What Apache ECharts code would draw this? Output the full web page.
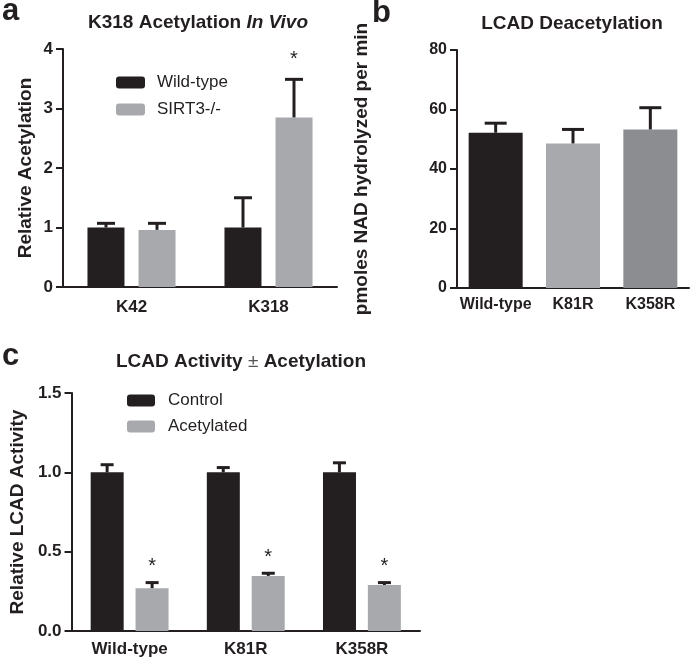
<!DOCTYPE html>
<html>
<head>
<meta charset="utf-8">
<script src="https://cdn.jsdelivr.net/npm/echarts@6/dist/echarts.min.js"></script>
<style>
html,body{margin:0;padding:0;background:#fff;}
#chart{width:693px;height:664px;}
</style>
</head>
<body>
<div id="chart"></div>
<script>
// ---- Panel a data ----
const catsA = ['K42', 'K318'];
const wtA = [1.0, 1.0];
const wtAErr = [1.07, 1.5];
const koA = [0.96, 2.85];
const koAErr = [1.07, 3.49];
const koASig = [0, 1];
const yTicksA = ['0', '1', '2', '3', '4'];

// ---- Panel b data ----
const catsB = ['Wild-type', 'K81R', 'K358R'];
const valB = [52.2, 48.6, 53.3];
const valBErr = [55.4, 53.3, 60.6];
const yTicksB = ['0', '20', '40', '60', '80'];

// ---- Panel c data ----
const catsC = ['Wild-type', 'K81R', 'K358R'];
const ctrlC = [1.0, 1.0, 1.0];
const ctrlCErr = [1.048, 1.03, 1.06];
const acC = [0.27, 0.347, 0.29];
const acCErr = [0.305, 0.364, 0.305];
const acCSig = [1, 1, 1];
const yTicksC = ['0.0', '0.5', '1.0', '1.5'];

const FONT = 'Liberation Sans, Arial, Helvetica, sans-serif';
const INK = '#231f20';
const LIGHT = '#a7a9ac';
const MID = '#8b8d90';

function errData(vals, errs, sig) {
  return vals.map((v, i) => [i, v, errs[i], sig ? sig[i] : 0]);
}
function errRender(offsetPx, capW, starOff) {
  return function (params, api) {
    const cat = api.value(0), lo = api.value(1), hi = api.value(2), s = api.value(3);
    const p0 = api.coord([cat, lo]);
    const p1 = api.coord([cat, hi]);
    const x = p0[0] + offsetPx;
    const ch = [
      { type: 'line', shape: { x1: x, y1: p0[1], x2: x, y2: p1[1] }, style: { stroke: INK, lineWidth: 3 } },
      { type: 'line', shape: { x1: x - capW / 2, y1: p1[1], x2: x + capW / 2, y2: p1[1] }, style: { stroke: INK, lineWidth: 3 } }
    ];
    if (s) {
      ch.push({ type: 'text', style: { text: '*', x: x, y: p1[1] - starOff, align: 'center', verticalAlign: 'middle', font: '20px ' + FONT, fill: INK } });
    }
    return { type: 'group', children: ch };
  };
}
function yAxisCommon(ticks, max, interval, gridIndex, name, nameGap, fs) {
  return {
    type: 'value', gridIndex: gridIndex, min: 0, max: max, interval: interval,
    name: name, nameLocation: 'middle', nameGap: nameGap,
    nameTextStyle: { fontFamily: FONT, fontWeight: 'bold', fontSize: 19, color: INK },
    axisLine: { show: true, lineStyle: { color: INK, width: 2 } },
    axisTick: { show: true, length: 7, lineStyle: { color: INK, width: 2 } },
    axisLabel: { fontFamily: FONT, fontWeight: 'bold', fontSize: fs, color: INK, margin: 10,
      formatter: function (v) { const i = Math.round(v / interval); return ticks[i]; } },
    splitLine: { show: false }
  };
}
function xAxisCommon(cats, gridIndex, margin, fs) {
  return {
    type: 'category', gridIndex: gridIndex, data: cats,
    axisLine: { show: true, lineStyle: { color: INK, width: 2 } },
    axisTick: { show: false },
    axisLabel: { interval: 0, hideOverlap: false, fontFamily: FONT, fontWeight: 'bold', fontSize: fs, color: INK, margin: margin }
  };
}

const chart = echarts.init(document.getElementById('chart'), null, { renderer: 'canvas' });
chart.setOption({
  backgroundColor: '#fff',
  animation: false,
  title: [
    { text: 'K318 Acetylation {i|In Vivo}', left: 198, top: 13, textAlign: 'center', padding: 0,
      textStyle: { fontFamily: FONT, fontWeight: 'bold', fontSize: 19, color: INK,
        rich: { i: { fontFamily: FONT, fontWeight: 'bold', fontStyle: 'italic', fontSize: 19, color: INK } } } },
    { text: 'LCAD Deacetylation', left: 572, top: 14, textAlign: 'center', padding: 0,
      textStyle: { fontFamily: FONT, fontWeight: 'bold', fontSize: 19, color: INK } },
    { text: 'LCAD Activity {pm|\u00b1} Acetylation', left: 241, top: 352, textAlign: 'center', padding: 0,
      textStyle: { fontFamily: FONT, fontWeight: 'bold', fontSize: 19, color: INK,
        rich: { pm: { fontFamily: FONT, fontWeight: 'normal', fontSize: 19, color: '#555' } } } }
  ],
  graphic: [
    { type: 'text', left: 2, top: -4, style: { text: 'a', font: 'bold 31px ' + FONT, fill: INK } },
    { type: 'text', left: 372, top: -2, style: { text: 'b', font: 'bold 31px ' + FONT, fill: INK } },
    { type: 'text', left: 2, top: 341, style: { text: 'c', font: 'bold 31px ' + FONT, fill: INK } }
  ],
  legend: [
    { data: ['Wild-type', 'SIRT3-/-'], orient: 'vertical', left: 116, top: 74, itemWidth: 29, itemHeight: 12,
      itemGap: 10, icon: 'roundRect', padding: 0,
      textStyle: { fontFamily: FONT, fontSize: 17, color: INK, padding: [0, 0, 0, 7] } },
    { data: ['Control', 'Acetylated'], orient: 'vertical', left: 127, top: 392, itemWidth: 28, itemHeight: 12,
      itemGap: 9, icon: 'roundRect', padding: 0,
      textStyle: { fontFamily: FONT, fontSize: 17, color: INK, padding: [0, 0, 0, 8] } }
  ],
  grid: [
    { left: 63, top: 49, width: 274, height: 238 },
    { left: 457, top: 50, width: 232, height: 238 },
    { left: 63, top: 393, width: 357, height: 238 }
  ],
  xAxis: [
    xAxisCommon(catsA, 0, 12, 17),
    xAxisCommon(catsB, 1, 9, 16),
    xAxisCommon(catsC, 2, 10, 17)
  ],
  yAxis: [
    yAxisCommon(yTicksA, 4, 1, 0, 'Relative Acetylation', 28, 17),
    yAxisCommon(yTicksB, 80, 20, 1, 'pmoles NAD hydrolyzed per min', 86, 16),
    yAxisCommon(yTicksC, 1.5, 0.5, 2, 'Relative LCAD Activity', 40, 17)
  ],
  series: [
    { name: 'Wild-type', type: 'bar', xAxisIndex: 0, yAxisIndex: 0, data: wtA, barWidth: 37, barGap: '38%', itemStyle: { color: INK } },
    { name: 'SIRT3-/-', type: 'bar', xAxisIndex: 0, yAxisIndex: 0, data: koA, barWidth: 37, barGap: '38%', itemStyle: { color: LIGHT } },
    { name: 'errA1', type: 'custom', xAxisIndex: 0, yAxisIndex: 0, data: errData(wtA, wtAErr), renderItem: errRender(-25.5, 18, 20), z: 3 },
    { name: 'errA2', type: 'custom', xAxisIndex: 0, yAxisIndex: 0, data: errData(koA, koAErr, koASig), renderItem: errRender(25.5, 18, 20), z: 3 },

    { name: 'LCAD', type: 'bar', xAxisIndex: 1, yAxisIndex: 1, barWidth: 54,
      data: valB.map((v, i) => ({ value: v, itemStyle: { color: [INK, LIGHT, MID][i] } })) },
    { name: 'errB', type: 'custom', xAxisIndex: 1, yAxisIndex: 1, data: errData(valB, valBErr), renderItem: errRender(0, 22, 20), z: 3 },

    { name: 'Control', type: 'bar', xAxisIndex: 2, yAxisIndex: 2, data: ctrlC, barWidth: 33, barGap: '36%', itemStyle: { color: INK } },
    { name: 'Acetylated', type: 'bar', xAxisIndex: 2, yAxisIndex: 2, data: acC, barWidth: 33, barGap: '36%', itemStyle: { color: LIGHT } },
    { name: 'errC1', type: 'custom', xAxisIndex: 2, yAxisIndex: 2, data: errData(ctrlC, ctrlCErr), renderItem: errRender(-22.5, 13, 16), z: 3 },
    { name: 'errC2', type: 'custom', xAxisIndex: 2, yAxisIndex: 2, data: errData(acC, acCErr, acCSig), renderItem: errRender(22.5, 13, 16), z: 3 }
  ]
});
</script>
</body>
</html>
